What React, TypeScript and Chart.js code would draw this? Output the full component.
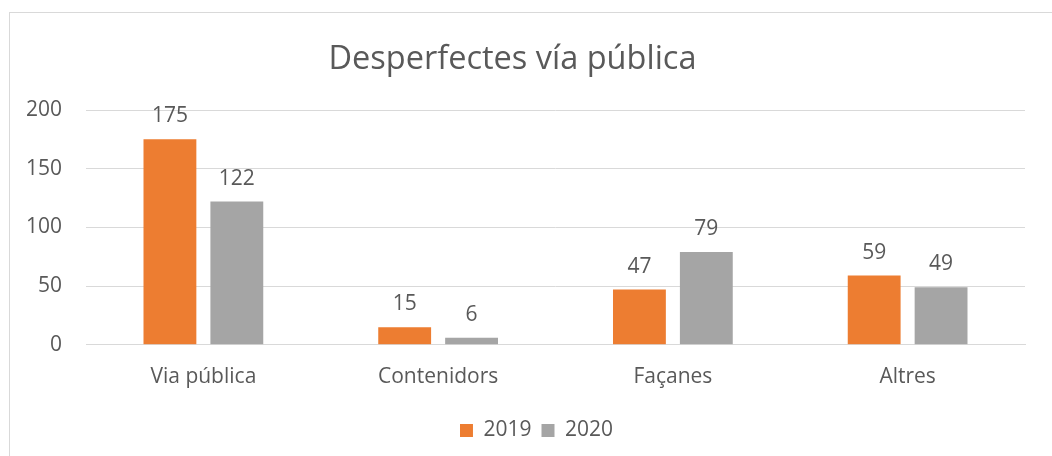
import React, { useEffect, useRef } from "react";
import { Chart, registerables } from "chart.js";

Chart.register(...registerables);

const categories = ["Via pública", "Contenidors", "Façanes", "Altres"];
const series2019 = [175, 15, 47, 59];
const series2020 = [122, 6, 79, 49];
const yTicks = [0, 50, 100, 150, 200];
const titleText = "Desperfectes vía pública";

const FONT = "'Open Sans', sans-serif";
const TEXT = "#595959";

const borderPlugin = {
  id: "outerBorder",
  beforeDraw(chart: any) {
    const ctx = chart.ctx;
    ctx.save();
    ctx.fillStyle = "#ffffff";
    ctx.fillRect(0, 0, chart.width, chart.height);
    ctx.strokeStyle = "#d9d9d9";
    ctx.lineWidth = 1;
    ctx.strokeRect(9.5, 12.5, chart.width + 20, chart.height + 20);
    ctx.restore();
  },
};

const legendShiftPlugin = {
  id: "legendShift",
  afterLayout(chart: any) {
    const lg = chart.legend;
    if (lg) {
      lg.left += 24;
      lg.right += 24;
    }
  },
};

const valueLabelPlugin = {
  id: "valueLabels",
  afterDatasetsDraw(chart: any) {
    const ctx = chart.ctx;
    ctx.save();
    ctx.font = `21px ${FONT}`;
    ctx.fillStyle = TEXT;
    ctx.textAlign = "center";
    ctx.textBaseline = "middle";
    chart.data.datasets.forEach((ds: any, i: number) => {
      const meta = chart.getDatasetMeta(i);
      meta.data.forEach((bar: any, j: number) => {
        ctx.fillText(String(ds.data[j]), bar.x, bar.y - 23);
      });
    });
    ctx.restore();
  },
};

export default function App() {
  const ref = useRef<HTMLCanvasElement | null>(null);
  useEffect(() => {
    document.body.style.margin = "0";
    const canvas = ref.current!;
    const chart = new Chart(canvas, {
      type: "bar",
      data: {
        labels: categories,
        datasets: [
          { label: "2019", data: series2019, backgroundColor: "#ED7D31", categoryPercentage: 0.57, barPercentage: 0.79 },
          { label: "2020", data: series2020, backgroundColor: "#A5A5A5", categoryPercentage: 0.57, barPercentage: 0.79 },
        ],
      },
      options: {
        animation: false,
        responsive: false,
        devicePixelRatio: 1,
        layout: { padding: { left: 0, right: 27, top: 0, bottom: 5 } },
        plugins: {
          title: {
            display: true,
            text: titleText,
            color: TEXT,
            font: { family: FONT, size: 32.5, weight: "normal" },
            padding: { top: 40, bottom: 31 },
          },
          legend: {
            position: "bottom",
            labels: {
              color: TEXT,
              font: { family: FONT, size: 21 },
              boxWidth: 13,
              boxHeight: 13,
              padding: 10,
            },
          },
          tooltip: { enabled: false },
        },
        scales: {
          x: {
            grid: { display: false, drawTicks: false },
            border: { color: "#d9d9d9", width: 1 },
            ticks: { color: TEXT, font: { family: FONT, size: 21 }, padding: 20 },
          },
          y: {
            min: 0,
            max: 200,
            afterFit(scale: any) {
              scale.width = 86;
            },
            afterBuildTicks(scale: any) {
              scale.ticks = yTicks.map((v) => ({ value: v }));
            },
            grid: { color: "#d9d9d9", drawTicks: false },
            border: { display: false },
            ticks: { color: TEXT, font: { family: FONT, size: 21 }, padding: 24 },
          },
        },
      },
      plugins: [borderPlugin, legendShiftPlugin, valueLabelPlugin],
    });
    return () => chart.destroy();
  }, []);
  return <canvas ref={ref} width={1052} height={456} style={{ display: "block" }} />;
}
